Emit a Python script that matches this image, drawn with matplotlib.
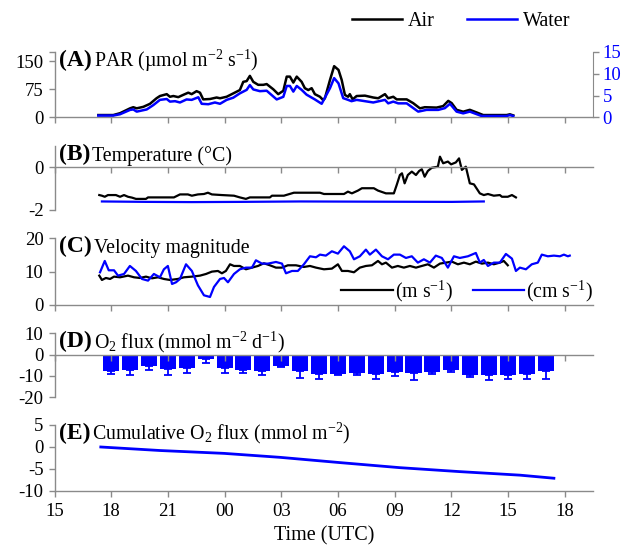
import numpy as np
import matplotlib
matplotlib.use("Agg")
import matplotlib.pyplot as plt

# time axis: hours after 00 UTC of the first day (24 = 00 next day)
tick_pos = [15, 18, 21, 24, 27, 30, 33, 36, 39, 42]
tick_lab = ["15", "18", "21", "00", "03", "06", "09", "12", "15", "18"]

# (A) PAR, air (left axis) and water (right axis)
par_air_t = [17.32, 18.11, 18.47, 19.00, 19.17, 19.35, 19.70, 20.05, 20.40, 20.58,
             20.94, 21.11, 21.29, 21.55, 21.81, 22.08, 22.26, 22.52, 22.70, 22.87,
             23.23, 23.58, 23.76, 24.11, 24.46, 24.81, 24.99, 25.17, 25.34, 25.52,
             25.78, 26.05, 26.23, 26.58, 26.84, 27.11, 27.29, 27.46, 27.64, 27.82,
             28.08, 28.25, 28.43, 28.61, 28.78, 29.05, 29.22, 29.31, 29.58, 29.80,
             30.03, 30.20, 30.37, 30.54, 30.63, 30.78, 30.99, 31.43, 31.87, 32.13,
             32.49, 32.66, 32.93, 33.11, 33.64, 33.98, 34.34, 34.60, 35.22, 35.57,
             35.84, 36.02, 36.28, 36.63, 36.98, 37.34, 37.69, 38.93, 39.10, 39.28]
par_air = [6, 6, 11, 24, 27, 24, 28, 36, 51, 57,
           62, 55, 57, 54, 60, 66, 62, 70, 66, 48,
           49, 53, 51, 55, 64, 73, 95, 97, 111, 95,
           87, 87, 89, 75, 62, 71, 109, 109, 93, 109,
           95, 78, 73, 78, 62, 55, 46, 51, 100, 137,
           127, 100, 60, 55, 62, 48, 57, 58, 53, 51,
           62, 51, 55, 48, 48, 38, 24, 27, 26, 30,
           44, 38, 20, 15, 20, 13, 6, 6, 8, 5]

par_wat_t = [17.32, 18.11, 18.47, 19.00, 19.17, 19.35, 19.88, 20.23, 20.58, 20.94,
             21.11, 21.38, 21.64, 21.99, 22.26, 22.61, 22.79, 23.14, 23.49, 23.76,
             24.11, 24.46, 24.81, 25.17, 25.34, 25.52, 25.87, 26.23, 26.76, 27.11,
             27.29, 27.46, 27.64, 27.82, 28.08, 28.34, 28.78, 29.14, 29.58, 29.80,
             30.03, 30.28, 30.54, 30.72, 30.99, 31.87, 32.49, 32.66, 32.93, 33.19,
             33.64, 34.25, 34.69, 35.31, 35.66, 35.93, 36.28, 36.63, 36.98, 37.60,
             38.93, 39.10, 39.28]
par_wat = [0.4, 0.4, 0.7, 1.7, 1.8, 1.3, 1.8, 2.8, 4.0, 4.2,
           3.6, 3.7, 3.4, 4.1, 4.0, 4.6, 3.1, 3.0, 3.4, 3.1,
           4.0, 4.5, 5.5, 6.3, 7.4, 6.4, 6.0, 6.1, 4.1, 4.7,
           7.2, 7.2, 5.9, 7.2, 6.3, 5.2, 4.1, 3.1, 6.7, 9.0,
           7.8, 4.4, 4.0, 3.7, 4.0, 3.4, 4.0, 3.2, 3.6, 3.2,
           3.2, 1.3, 1.7, 1.7, 2.1, 3.1, 1.3, 0.9, 1.3, 0.3,
           0.3, 0.5, 0.3]

# (B) temperature
temp_air_t = [17.37, 17.51, 17.66, 17.83, 18.25, 18.47, 18.68, 18.89, 19.10, 19.31,
              19.84, 19.95, 21.32, 21.64, 22.06, 22.27, 22.59, 22.91, 23.12, 23.33,
              23.86, 24.50, 24.81, 25.13, 25.34, 26.40, 26.51, 27.14, 27.67, 29.05,
              29.26, 30.32, 30.53, 30.74, 31.06, 31.27, 31.90, 32.12, 32.54, 32.96,
              33.11, 33.28, 33.39, 33.53, 33.70, 33.91, 34.13, 34.30, 34.44, 34.59,
              34.76, 34.97, 35.29, 35.40, 35.57, 35.82, 35.99, 36.24, 36.41, 36.56,
              36.77, 36.98, 37.20, 37.51, 37.72, 37.94, 38.25, 38.57, 38.68, 38.99,
              39.21, 39.42]
temp_air = [-1.30, -1.33, -1.38, -1.30, -1.30, -1.38, -1.30, -1.38, -1.42, -1.48,
            -1.48, -1.41, -1.41, -1.27, -1.27, -1.33, -1.27, -1.25, -1.19, -1.27,
            -1.30, -1.33, -1.41, -1.48, -1.41, -1.41, -1.33, -1.33, -1.19, -1.19,
            -1.25, -1.25, -1.14, -1.22, -1.09, -0.98, -0.98, -1.09, -1.22, -1.22,
            -0.83, -0.36, -0.28, -0.75, -0.36, -0.20, -0.36, -0.17, -0.09, -0.44,
            -0.17, -0.02, 0.03, 0.50, 0.19, 0.27, 0.14, 0.23, 0.42, -0.12,
            0.03, -0.75, -0.80, -1.22, -1.30, -1.25, -1.33, -1.30, -1.38, -1.38,
            -1.30, -1.41]
temp_wat_t = [17.51, 19.95, 22.27, 24.81, 27.99, 31.59, 36.03, 37.72]
temp_wat = [-1.60, -1.62, -1.63, -1.62, -1.60, -1.61, -1.62, -1.60]

# (C) velocity magnitude: wind (m/s) and current (cm/s)
wind_t = [17.37, 17.51, 17.72, 17.94, 18.15, 18.47, 18.89, 19.21, 19.52, 19.84,
          20.16, 20.48, 20.79, 21.11, 21.53, 21.85, 22.27, 22.70, 23.02, 23.33,
          23.65, 23.86, 24.07, 24.29, 24.50, 24.81, 25.13, 25.45, 25.77, 26.08,
          26.40, 26.72, 27.04, 27.35, 27.78, 28.20, 28.52, 28.84, 29.26, 29.68,
          30.00, 30.21, 30.53, 30.85, 31.16, 31.48, 31.80, 32.12, 32.33, 32.54,
          32.86, 33.17, 33.49, 33.81, 34.13, 34.44, 34.76, 35.08, 35.40, 35.71,
          36.03, 36.35, 36.67, 36.98, 37.30, 37.62, 37.94, 38.25, 38.57, 38.78,
          38.99]
wind = [8.8, 7.5, 8.1, 7.8, 8.5, 8.3, 8.8, 8.3, 8.1, 8.5,
        8.0, 8.3, 7.8, 7.5, 7.8, 8.3, 8.5, 8.8, 9.3, 10.0,
        10.2, 9.5, 10.2, 12.2, 11.7, 11.7, 10.7, 11.2, 11.7, 12.5,
        11.9, 11.2, 11.2, 11.9, 11.9, 11.4, 11.7, 11.2, 10.7, 10.9,
        12.2, 10.2, 10.2, 9.8, 11.2, 11.7, 11.9, 13.2, 12.2, 12.7,
        11.2, 11.7, 11.2, 11.7, 11.2, 11.7, 12.2, 11.2, 12.4, 12.7,
        13.0, 12.2, 12.7, 12.2, 13.0, 12.4, 12.7, 12.2, 12.7, 13.2,
        11.9]
current_t = [17.41, 17.66, 17.87, 18.15, 18.36, 18.68, 18.99, 19.31, 19.63, 19.95,
             20.26, 20.58, 20.79, 21.00, 21.22, 21.43, 21.64, 21.96, 22.27, 22.59,
             22.91, 23.23, 23.44, 23.76, 23.97, 24.18, 24.50, 24.81, 25.13, 25.45,
             25.66, 25.98, 26.30, 26.72, 27.04, 27.25, 27.57, 27.88, 28.20, 28.52,
             28.84, 29.05, 29.36, 29.68, 30.00, 30.32, 30.63, 30.85, 31.16, 31.48,
             31.69, 32.01, 32.33, 32.65, 32.96, 33.28, 33.60, 33.91, 34.23, 34.55,
             34.87, 35.18, 35.50, 35.82, 36.14, 36.45, 36.88, 37.30, 37.51, 37.72,
             37.94, 38.25, 38.57, 38.89, 39.21, 39.42, 39.63, 39.95, 40.26, 40.58,
             40.79, 41.11, 41.43, 41.75, 41.96, 42.17, 42.27]
current = [9.8, 13.2, 10.4, 10.4, 8.8, 9.3, 11.7, 10.2, 7.8, 7.3,
           9.3, 8.3, 10.7, 11.7, 6.3, 6.8, 7.8, 12.2, 10.2, 5.9,
           2.9, 2.4, 5.4, 7.8, 8.1, 6.8, 9.3, 10.7, 11.2, 11.2,
           13.4, 12.4, 12.4, 12.9, 12.4, 9.5, 10.2, 10.2, 12.2, 14.6,
           14.3, 15.1, 14.8, 16.1, 15.4, 17.6, 16.1, 13.7, 14.6, 16.6,
           15.1, 16.6, 14.6, 13.7, 15.1, 15.1, 14.1, 14.6, 12.7, 13.7,
           12.7, 14.8, 14.1, 11.2, 14.6, 14.1, 14.6, 15.6, 12.7, 13.5,
           11.7, 12.7, 12.7, 15.3, 13.9, 10.2, 11.2, 10.7, 12.2, 12.7,
           15.1, 14.6, 14.8, 14.6, 15.1, 14.6, 14.8]

# (D) hourly O2 flux with lower error
flux_t = [18, 19, 20, 21, 22, 23, 24, 25, 26, 27, 28, 29,
          30, 31, 32, 33, 34, 35, 36, 37, 38, 39, 40, 41]
flux = [-7.7, -7.1, -5.1, -6.6, -6.3, -2.2, -6.3, -7.4, -7.7, -5.1, -7.8, -8.9,
        -8.9, -8.6, -8.9, -8.2, -8.5, -8.2, -7.1, -9.7, -9.7, -9.4, -8.9, -7.8]
flux_err = [1.2, 2.6, 2.0, 3.1, 2.3, 1.8, 2.3, 1.2, 2.0, 0.7, 3.1, 2.6,
            0.8, 0.8, 2.3, 1.8, 3.5, 0.7, 1.1, 0.8, 2.3, 2.1, 2.6, 3.4]

# (E) cumulative O2 flux
cum_t = [17.45, 20.58, 23.97, 26.93, 30.11, 33.28, 36.45, 39.63, 41.43]
cum = [0.0, -0.8, -1.45, -2.35, -3.55, -4.7, -5.6, -6.4, -7.1]

plt.rcParams["font.family"] = ["Liberation Serif", "DejaVu Serif"]
plt.rcParams["mathtext.fontset"] = "custom"
plt.rcParams["mathtext.rm"] = "Liberation Serif"
plt.rcParams["mathtext.it"] = "Liberation Serif:italic"
plt.rcParams["mathtext.bf"] = "Liberation Serif:bold"
plt.rcParams["axes.unicode_minus"] = False

GRAY = "#8a8a8a"
BLUE = "#0000ff"
TICK_FS = 13.5
TXT_FS = 14.3

fig = plt.figure(figsize=(6.25, 5.45), dpi=100)
L, W = 0.0872, 0.8616


def style(ax, zero_axis=False):
    ax.spines["top"].set_visible(False)
    ax.spines["right"].set_visible(False)
    for s in ("left", "bottom"):
        ax.spines[s].set_color(GRAY)
        ax.spines[s].set_linewidth(1.0)
    if zero_axis:
        ax.spines["bottom"].set_position(("data", 0))
    ax.set_xlim(15, 43.5)
    ax.set_xticks(tick_pos)
    ax.tick_params(axis="both", direction="out", color=GRAY, length=4,
                   width=1, labelsize=TICK_FS)
    ax.tick_params(axis="y", pad=4)
    ax.tick_params(axis="x", labelbottom=False, pad=5)
    ax.patch.set_visible(False)


def panel_label(ax, letter, desc):
    t = ax.annotate(f"({letter})", xy=(0, 1), xycoords="axes fraction",
                    xytext=(3.5, -6), textcoords="offset points",
                    ha="left", va="center", fontsize=17, fontweight="bold",
                    annotation_clip=False)
    ax.annotate(desc, xy=(1, 0.2), xycoords=t, xytext=(1.0, 0),
                textcoords="offset points", ha="left", va="baseline",
                fontsize=TXT_FS, annotation_clip=False)


# (A)
axA = fig.add_axes([L, 0.7848, W, 0.1198])
style(axA)
hA, = axA.plot(par_air_t, par_air, color="black", lw=1.8)
axA.set_ylim(0, 175)
axA.set_yticks([0, 75, 150, 175])
axA.set_yticklabels(["0", "75", "150", ""])
axA2 = axA.twinx()
hW, = axA2.plot(par_wat_t, par_wat, color=BLUE, lw=1.8)
axA2.set_ylim(0, 15)
axA2.set_yticks([0, 5, 10, 15])
for s in ("top", "left", "bottom"):
    axA2.spines[s].set_visible(False)
axA2.spines["right"].set_color(GRAY)
axA2.tick_params(axis="y", direction="out", color=GRAY, length=4, width=1,
                 labelsize=TICK_FS, labelcolor=BLUE, pad=3)
panel_label(axA, "A", "PAR (µmol m$^{-2}$ s$^{-1}$)")
fig.legend([hA, hW], ["Air", "Water"], loc="center",
           bbox_to_anchor=(0.738, 0.961), ncol=2, frameon=False,
           fontsize=14.5, handlelength=2.5, handletextpad=0.3,
           columnspacing=1.6)

# (B)
axB = fig.add_axes([L, 0.6147, W, 0.1174])
style(axB, zero_axis=True)
axB.plot(temp_air_t, temp_air, color="black", lw=1.6)
axB.plot(temp_wat_t, temp_wat, color=BLUE, lw=1.6)
axB.set_ylim(-2, 1)
axB.set_yticks([-2, 0])
panel_label(axB, "B", "Temperature (°C)")

# (C)
axC = fig.add_axes([L, 0.4404, W, 0.1224])
style(axC)
hm, = axC.plot(wind_t, wind, color="black", lw=1.6)
hc, = axC.plot(current_t, current, color=BLUE, lw=1.6)
axC.set_ylim(0, 20)
axC.set_yticks([0, 10, 20])
panel_label(axC, "C", "Velocity magnitude")
axC.legend([hm, hc], [r"(m s$^{-1}$)", r"(cm s$^{-1}$)"], loc="center right",
           bbox_to_anchor=(1.0, 0.21), ncol=2, frameon=False,
           fontsize=TXT_FS, handlelength=2.6, handletextpad=0.1,
           columnspacing=1.0, borderaxespad=0, borderpad=0)

# (D)
axD = fig.add_axes([L, 0.2710, W, 0.1174])
style(axD, zero_axis=True)
axD.bar(flux_t, flux, width=0.85, color=BLUE,
        yerr=[flux_err, np.zeros(len(flux_err))],
        error_kw=dict(ecolor=BLUE, elinewidth=1.3, capsize=3, capthick=1.3))
axD.set_ylim(-20, 10)
axD.set_yticks([-20, -10, 0, 10])
panel_label(axD, "D", r"O$_2$ flux (mmol m$^{-2}$ d$^{-1}$)")

# (E)
axE = fig.add_axes([L, 0.0991, W, 0.1211])
style(axE)
axE.plot(cum_t, cum, color=BLUE, lw=2)
axE.set_ylim(-10, 5)
axE.set_yticks([-10, -5, 0, 5])
axE.tick_params(axis="x", labelbottom=True)
axE.set_xticklabels(tick_lab)
axE.set_xlabel("Time (UTC)", fontsize=14.5, labelpad=4)
panel_label(axE, "E", r"Cumulative O$_2$ flux (mmol m$^{-2}$)")

fig.savefig("out.png", dpi=100)
